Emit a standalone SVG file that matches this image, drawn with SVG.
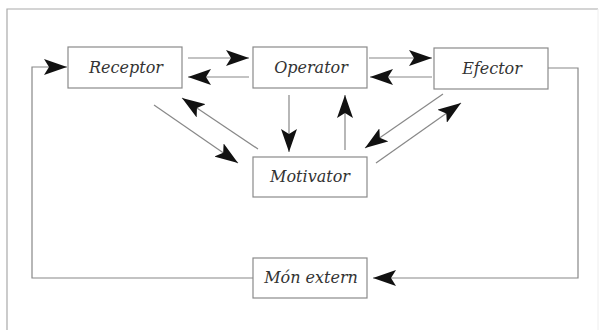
<svg xmlns="http://www.w3.org/2000/svg" width="600" height="331" viewBox="0 0 600 331">
<style>
.box{fill:#fff;stroke:#8a8a8a;stroke-width:1.2}
.lbl{font-family:"DejaVu Serif","Liberation Serif",serif;font-style:italic;font-size:16px;fill:#333;text-anchor:middle}
.c{fill:none;stroke:#888;stroke-width:1.2}
.ca{fill:none;stroke:#888;stroke-width:1.2;marker-end:url(#ah)}
</style>
<defs>
<marker id="ah" markerUnits="userSpaceOnUse" markerWidth="24" markerHeight="16" viewBox="0 0 24 16" refX="23" refY="8" orient="auto">
<path d="M0,0 L23,8 L0,16 L5,8 Z" fill="#111"/>
</marker>
</defs>
<rect width="600" height="331" fill="#fff"/>
<g id="frame">
<path d="M7,330 V9 H598" fill="none" stroke="#aaa" stroke-width="1.2"/>
<path d="M598,9 V330" fill="none" stroke="#eee" stroke-width="1"/>
</g>
<g id="connectors">
<path class="ca" d="M188,58 H249"/>
<path class="ca" d="M249,77 H188"/>
<path class="ca" d="M369,58 H432"/>
<path class="ca" d="M432,77 H370"/>
<path class="ca" d="M289,95 V152"/>
<path class="ca" d="M345,150 V95"/>
<path class="ca" d="M154,105 L238,163"/>
<path class="ca" d="M258,149 L182,98"/>
<path class="ca" d="M443,94 L365,148"/>
<path class="ca" d="M376,163 L461,103"/>
<path class="ca" d="M253,278 H32 V67 H67"/>
<path class="ca" d="M548,68 H578 V278 H373"/>
</g>
<g id="receptor"><rect class="box" x="68" y="47" width="114" height="41"/><text class="lbl" x="126" y="73">Receptor</text></g>
<g id="operator"><rect class="box" x="253" y="47" width="114" height="41"/><text class="lbl" x="311" y="73">Operator</text></g>
<g id="efector"><rect class="box" x="434" y="48" width="114" height="41"/><text class="lbl" x="492" y="74">Efector</text></g>
<g id="motivator"><rect class="box" x="253" y="157" width="114" height="40"/><text class="lbl" x="310" y="182">Motivator</text></g>
<g id="mon-extern"><rect class="box" x="253" y="258" width="114" height="40"/><text class="lbl" x="311" y="283">Món extern</text></g>
</svg>
